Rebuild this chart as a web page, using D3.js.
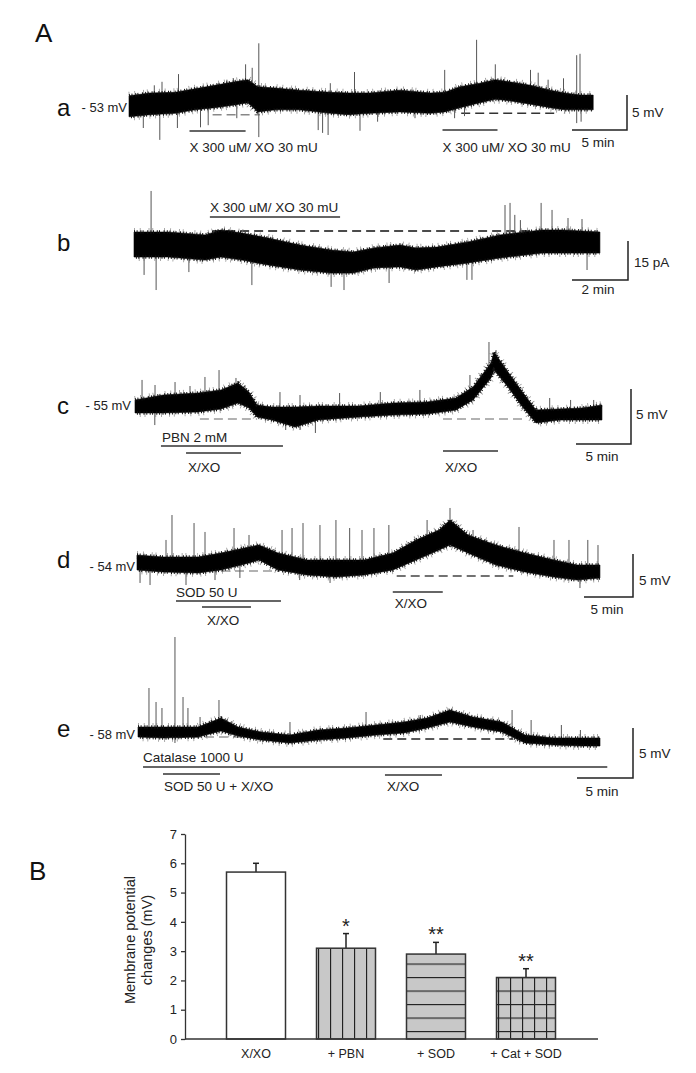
<!DOCTYPE html>
<html><head><meta charset="utf-8">
<script src="https://cdn.jsdelivr.net/npm/d3@7"></script>
<style>body{margin:0;background:#fff}svg{display:block;font-family:"Liberation Sans",Arial,sans-serif}</style>
</head><body><svg id="fig" width="696" height="1073"></svg>
<script>
// ===== DATA =====
// Trace a : membrane potential (mV, relative to resting level) vs time (min)
const traceA_t  = [0,1.9,4.2,6.0,7.8,9.6,10.8,11.7,13.3,15.5,18.3,19.9,21.9,24.6,27.4,28.7,30.1,31.9,33.3,34.6,36.5,38.3,39.6,41.0,42.2];
const traceA_hi = [2.6,3.0,3.1,3.6,4.1,4.6,4.9,3.9,3.7,3.4,3.1,3.0,3.0,3.4,3.0,3.1,3.9,4.4,4.9,4.6,4.1,3.4,3.0,2.7,2.7];
const traceA_lo = [-0.4,-0.1,0.1,0.6,0.9,1.3,1.6,0.3,0.6,0.6,0.1,-0.1,0.1,0.3,0.1,0.3,0.9,1.6,2.1,1.9,1.4,0.9,0.6,0.6,0.6];
const spikesA_t = [2.3,3.0,4.5,8.9,9.5,10.6,11.2,11.8,18.3,20.5,28.7,31.6,33.3,36.5,37.2,38.1,39.5,40.7,41.0,1.3,2.8,4.4,6.5,7.2,9.8,11.8,17.2,17.6,18.1,21.0,22.6,26.0,29.6,30.5,40.7,41.1];
const spikesA_v = [4.1,4.6,5.7,4.9,5.1,7.1,6.6,10.1,4.4,6.0,6.3,10.6,7.1,6.3,5.9,4.9,5.1,8.4,8.6,-2.0,-3.7,-2.0,-1.9,-1.6,-0.6,-3.3,-2.3,-2.7,-3.0,-2.4,-1.1,-0.6,-0.6,-0.3,-1.3,-1.1];
const dashA  = [[7.6,11.9,-0.1],[30.2,38.7,0.1]];
const drugsA = [[5.5,10.6,"X 300 uM/ XO 30 mU"],[28.5,33.5,"X 300 uM/ XO 30 mU"]];

// Trace b : holding current (pA) vs time (min)
const traceB_t  = [0,1.21,2.54,3.11,3.86,4.79,5.93,7.04,7.82,8.57,9.5,10.07,10.82,11.93,13.07,14.57,15.32,16.64];
const traceB_hi = [-0.4,-0.4,-1.5,0.4,-0.8,-2.7,-5.4,-7.3,-8.1,-6.5,-5.4,-6.5,-6.2,-4.2,-1.5,0.4,0.4,-0.4];
const traceB_lo = [-10.0,-10.0,-11.2,-10.0,-11.2,-13.1,-15.0,-16.2,-16.2,-14.2,-13.8,-15.0,-13.8,-12.3,-10.4,-8.5,-8.5,-8.5];
const spikesB_t = [0.61,13.25,13.43,13.6,13.8,14.54,14.93,15.5,16.0,0.36,0.79,1.96,4.21,7.04,7.5,9.11,11.89,12.07,16.18];
const spikesB_v = [15.4,10.0,10.8,6.2,4.2,10.8,8.1,5.0,4.6,-16.9,-22.7,-15.8,-20.8,-21.5,-22.7,-20.0,-18.8,-18.8,-15.0];
const dashB  = [[2.79,14.18,0]];
const drugsB = [[2.71,7.36,"X 300 uM/ XO 30 mU"]];

// Trace c
const traceC_t  = [0,2.55,5.73,7.82,9.36,10.36,11.09,12.45,14.55,16.64,20.36,23.45,26.55,29.18,30.73,32.36,32.64,33.91,35.09,36.45,38.55,40.64,42.45];
const traceC_hi = [1.73,2.18,2.36,2.64,3.27,2.45,1.27,1.09,1.09,1.18,1.18,1.45,1.55,1.91,2.91,5.09,6.09,4.27,2.64,0.82,0.91,1.0,1.27];
const traceC_lo = [0.55,0.55,0.64,0.91,1.45,1.0,0.18,-0.09,-0.73,-0.09,0.18,0.36,0.45,0.82,1.73,3.73,4.45,2.91,1.27,-0.36,-0.09,-0.09,-0.09];
const spikesC_t = [0.64,1.82,3.64,5.0,6.36,7.64,9.18,10.0,13.18,15.0,18.6,22.3,25.9,30.45,32.18,32.82,37.7,39.6,41.7,13.7,16.4,15.0,1.8];
const spikesC_v = [3.55,3.09,3.36,3.0,3.82,4.45,3.73,3.09,2.45,2.18,2.36,2.45,2.64,4.0,7.0,6.27,1.91,1.73,1.73,-1.0,-1.27,-1.0,-0.55];
const dashC  = [[5.9,11.1,0],[28.0,35.6,0]];
const drugsC = [[2.36,13.45,"PBN 2 mM"],[4.64,9.64,"X/XO"],[28.0,33.0,"X/XO"]];

// Trace d
const traceD_t  = [0,2.65,6.22,8.57,11.43,12.45,14.39,17.35,20.31,23.16,26.12,28.47,30.82,31.94,33.78,36.63,39.59,42.55,44.9,47.24];
const traceD_hi = [2.44,2.21,2.21,2.67,3.37,3.6,2.67,1.86,1.86,1.86,2.67,4.19,5.35,6.51,4.77,3.6,2.67,1.86,1.28,1.28];
const traceD_lo = [0.7,0.47,0.35,0.7,1.51,1.86,0.7,0.12,-0.12,0.12,0.7,1.86,3.02,3.6,2.67,1.28,0.47,-0.12,-0.47,-0.23];
const spikesD_t = [2.96,3.57,5.82,6.94,9.9,11.43,14.8,15.82,16.94,18.67,20.3,21.7,22.96,24.18,25.7,29.6,31.94,34.29,38.98,42.55,44.08,46.0,47.04,0.31,1.33,5.0,7.96,10.5,16.6,19.7,45.2];
const spikesD_v = [4.19,7.09,6.16,5.12,5.58,4.77,5.35,5.58,6.16,5.93,6.51,5.58,5.35,5.58,5.93,6.51,7.91,5.35,5.7,4.19,4.19,4.19,3.6,-0.81,-1.05,-1.05,-0.47,-0.23,-0.47,-0.81,-1.4];
const dashD  = [[8.57,14.59,0.58],[26.5,38.4,0]];
const drugsD = [[3.98,14.69,"SOD 50 U"],[6.63,11.63,"X/XO"],[26.1,31.2,"X/XO"]];

// Trace e
const traceE_t  = [0,2.23,5.36,7.41,8.93,10.98,13.57,16.07,18.66,21.25,23.75,25.8,27.86,29.91,32.5,34.55,37.14,39.64,41.25];
const traceE_hi = [1.2,1.2,1.2,2.1,1.2,0.7,0.4,0.9,1.1,1.4,1.7,2.1,2.9,2.2,1.7,0.4,0.1,0.1,0.1];
const traceE_lo = [0.2,0.1,0.2,0.8,0.3,-0.1,-0.4,-0.1,0.1,0.4,0.6,1.1,1.7,1.2,0.7,-0.4,-0.6,-0.7,-0.7];
const spikesE_t = [0.98,1.61,2.14,3.30,3.30,4.02,4.46,5.54,7.23,13.57,20.36,25.2,33.4,35.1,37.8,39.5];
const spikesE_v = [5.1,3.7,3.1,10.2,-0.4,4.2,3.1,2.2,3.9,1.7,2.7,2.4,2.9,1.9,1.4,0.9];
const dashE  = [[3.48,9.82,0.2],[21.9,33.5,0]];
const drugsE = [[0.45,41.9,"Catalase 1000 U"],[2.23,7.32,"SOD 50 U + X/XO"],[22.05,27.14,"X/XO"]];

// Scale bars [time (min), amplitude]
const scaleBars = [[5,5,"5 min","5 mV"],[2,15,"2 min","15 pA"],[5,5,"5 min","5 mV"],[5,5,"5 min","5 mV"],[5,5,"5 min","5 mV"]];
const panelLetters = ["a","b","c","d","e"];
const restLabels = ["- 53 mV","","- 55 mV","- 54 mV","- 58 mV"];

// Panel B bar chart
const categories = ["X/XO","+ PBN","+ SOD","+ Cat + SOD"];
const means = [5.7,3.1,2.9,2.1];
const sems  = [0.3,0.5,0.4,0.3];
const signif = ["","*","**","**"];
const yTicks = [0,1,2,3,4,5,6,7];

// ===== LAYOUT =====
const svg = d3.select("#fig");
const FONT = '"Liberation Sans", Arial, sans-serif';
const defs = svg.append("defs");

const layout = [
  {x0:129,pxT:11,y0:114,pxV:7,letterY:107,restX:127,restY:107,dashCol:["#888","#333"],
   drugY:[[131,152,0],[130,152,0]], sb:{cx:627,cy:130,vx:632,vy:112,tx:598,ty:147}},
  {x0:134,pxT:28,y0:231,pxV:2.6,letterY:242,restX:0,restY:0,dashCol:["#111"],
   drugY:[[217,212,0]], sb:{cx:628,cy:280,vx:634,vy:262,tx:598,ty:294}},
  {x0:135,pxT:11,y0:419,pxV:11,letterY:405,restX:131,restY:405,dashCol:["#999","#999"],
   drugY:[[446,442,1],[453,472,2],[451,472,2]], sb:{cx:631,cy:444,vx:636,vy:414,tx:602,ty:461}},
  {x0:137,pxT:9.8,y0:576,pxV:8.6,letterY:559,restX:135,restY:566,dashCol:["#999","#444"],
   drugY:[[601,597,0],[607,625,5],[592,608,2]], sb:{cx:633,cy:597,vx:639,vy:580,tx:607,ty:614}},
  {x0:138,pxT:11.2,y0:739,pxV:10,letterY:728,restX:135,restY:734,dashCol:["#999","#222"],
   drugY:[[767,762,0],[774,791,1],[775,791,2]], sb:{cx:633,cy:778,vx:639,vy:753,tx:602,ty:796}}
];
const traces = [
  {t:traceA_t,hi:traceA_hi,lo:traceA_lo,st:spikesA_t,sv:spikesA_v,dash:dashA,drugs:drugsA},
  {t:traceB_t,hi:traceB_hi,lo:traceB_lo,st:spikesB_t,sv:spikesB_v,dash:dashB,drugs:drugsB},
  {t:traceC_t,hi:traceC_hi,lo:traceC_lo,st:spikesC_t,sv:spikesC_v,dash:dashC,drugs:drugsC},
  {t:traceD_t,hi:traceD_hi,lo:traceD_lo,st:spikesD_t,sv:spikesD_v,dash:dashD,drugs:drugsD},
  {t:traceE_t,hi:traceE_hi,lo:traceE_lo,st:spikesE_t,sv:spikesE_v,dash:dashE,drugs:drugsE}
];

svg.append("text").attr("x",35).attr("y",42).attr("font-size",26).attr("fill","#111").text("A");
svg.append("text").attr("x",29).attr("y",880).attr("font-size",26).attr("fill","#111").text("B");

traces.forEach((tr,i)=>{
  const L = layout[i];
  const tEnd = tr.t[tr.t.length-1];
  const x = d3.scaleLinear().domain([0,tEnd]).range([L.x0, L.x0 + tEnd*L.pxT]);
  const y = d3.scaleLinear().domain([0,1]).range([L.y0, L.y0 - L.pxV]);
  const g = svg.append("g");
  const pts = tr.t.map((t,k)=>({t, hi:tr.hi[k], lo:tr.lo[k]}));
  const mid = t => {
    const k = Math.max(1, d3.bisectLeft(tr.t, t));
    const a = pts[Math.min(k-1,pts.length-1)], b = pts[Math.min(k,pts.length-1)];
    const f = b.t===a.t ? 0 : (t-a.t)/(b.t-a.t);
    return ((a.hi+a.lo)/2)*(1-f) + ((b.hi+b.lo)/2)*f;
  };
  // dashed baseline(s)
  tr.dash.forEach((d,k)=>{
    g.append("line").attr("x1",x(d[0])).attr("x2",x(d[1])).attr("y1",y(d[2])).attr("y2",y(d[2]))
     .attr("stroke",L.dashCol[k]||"#333").attr("stroke-width",1.5).attr("stroke-dasharray","9,5");
  });
  // spikes
  g.selectAll("line.sp").data(tr.st.map((t,k)=>[t,tr.sv[k]])).join("line").attr("class","sp")
    .attr("x1",d=>x(d[0])).attr("x2",d=>x(d[0]))
    .attr("y1",d=>y(mid(d[0]))).attr("y2",d=>y(d[1]))
    .attr("stroke","#555").attr("stroke-width",1);
  const topLine = d3.line().x(d=>x(d.t)).y(d=>y(d.hi));
  const botLine = d3.line().x(d=>x(d.t)).y(d=>y(d.lo));
  // light outer noise fringe (texture of the recording)
  [[topLine,"0.8,5,0.8,8,0.8,3,0.8,11",0],[botLine,"0.8,7,0.8,4,0.8,10,0.8,5",3]].forEach(([ln,da,off])=>{
    g.append("path").datum(pts).attr("d",ln).attr("fill","none").attr("stroke","#777").attr("stroke-opacity",0.8)
     .attr("stroke-width",8).attr("stroke-dasharray",da).attr("stroke-dashoffset",off);
  });
  // envelope band
  const area = d3.area().x(d=>x(d.t)).y0(d=>y(d.lo)).y1(d=>y(d.hi));
  g.append("path").datum(pts).attr("d",area).attr("fill","#000").attr("stroke","#000").attr("stroke-width",0.6).attr("stroke-linejoin","round");
  // dark inner fringe
  [[topLine,"1,1.6,1,2.8,1,1.2,1,3.6,1,2.2",0],[botLine,"1,2.4,1,1.4,1,3.2,1,1.8",1.5]].forEach(([ln,da,off])=>{
    g.append("path").datum(pts).attr("d",ln).attr("fill","none").attr("stroke","#111")
     .attr("stroke-width",3.5).attr("stroke-dasharray",da).attr("stroke-dashoffset",off);
  });
  // drug application bars
  tr.drugs.forEach((d,k)=>{
    const p = L.drugY[k];
    g.append("line").attr("x1",x(d[0])).attr("x2",x(d[1])).attr("y1",p[0]).attr("y2",p[0])
     .attr("stroke","#333").attr("stroke-width",1.5);
    g.append("text").attr("x",x(d[0])+p[2]).attr("y",p[1]).attr("font-size",13.5).attr("fill","#222").text(d[2]);
  });
  // scale bar
  const sb = scaleBars[i], S = L.sb;
  g.append("path").attr("d",`M${S.cx - sb[0]*L.pxT},${S.cy}H${S.cx}V${S.cy - sb[1]*L.pxV}`)
   .attr("fill","none").attr("stroke","#222").attr("stroke-width",1.5);
  g.append("text").attr("x",S.tx).attr("y",S.ty).attr("text-anchor","middle").attr("font-size",13.5).attr("fill","#222").text(sb[2]);
  g.append("text").attr("x",S.vx).attr("y",S.vy).attr("dominant-baseline","central").attr("font-size",13.5).attr("fill","#222").text(sb[3]);
  // letters and resting potential
  g.append("text").attr("x",57).attr("y",L.letterY).attr("dominant-baseline","central").attr("font-size",24).attr("fill","#111").text(panelLetters[i]);
  if (restLabels[i]) g.append("text").attr("x",L.restX).attr("y",L.restY).attr("dominant-baseline","central")
     .attr("text-anchor","end").attr("font-size",13).attr("fill","#222").text(restLabels[i]);
});

// ===== Panel B bar chart =====
const yB = d3.scaleLinear().domain([0,7]).range([1039,834]);
const xB = d3.scalePoint().domain(categories).range([256,526]);
const barW = 59;

function pat(id, vert, horiz){
  const w = vert?12:20, h = horiz?13.5:20;
  const p = defs.append("pattern").attr("id",id).attr("patternUnits","userSpaceOnUse")
    .attr("width",w).attr("height",h).attr("x",6).attr("y",5);
  p.append("rect").attr("width",w).attr("height",h).attr("fill","#c8c8c8");
  if (vert) p.append("line").attr("x1",0.5).attr("x2",0.5).attr("y1",0).attr("y2",h).attr("stroke","#222").attr("stroke-width",1.3);
  if (horiz) p.append("line").attr("x1",0).attr("x2",w).attr("y1",0.5).attr("y2",0.5).attr("stroke","#222").attr("stroke-width",1.3);
}
pat("pv",true,false); pat("ph",false,true); pat("pg",true,true);
const fills = ["#fff","url(#pv)","url(#ph)","url(#pg)"];

const gB = svg.append("g");
categories.forEach((c,i)=>{
  const cx = xB(c);
  gB.append("line").attr("x1",cx).attr("x2",cx).attr("y1",yB(means[i])).attr("y2",yB(means[i]+sems[i])).attr("stroke","#222").attr("stroke-width",1.5);
  gB.append("line").attr("x1",cx-3).attr("x2",cx+3).attr("y1",yB(means[i]+sems[i])).attr("y2",yB(means[i]+sems[i])).attr("stroke","#222").attr("stroke-width",1.5);
  if (signif[i]) gB.append("text").attr("x",cx).attr("y",yB(means[i]+sems[i])-1).attr("text-anchor","middle")
     .attr("font-size",20).attr("fill","#222").text(signif[i]);
});
gB.selectAll("rect.bar").data(categories).join("rect").attr("class","bar")
  .attr("x",c=>xB(c)-barW/2).attr("width",barW)
  .attr("y",(c,i)=>yB(means[i])).attr("height",(c,i)=>yB(0)-yB(means[i]))
  .attr("fill",(c,i)=>fills[i]).attr("stroke","#333").attr("stroke-width",1.5);

const yAxis = gB.append("g").attr("transform","translate(185,0)")
  .call(d3.axisLeft(yB).tickValues(yTicks).tickSize(4).tickSizeOuter(0).tickPadding(4).tickFormat(d3.format("d")));
yAxis.selectAll("text").attr("font-size",13).attr("font-family",FONT).attr("fill","#222");
yAxis.selectAll("line,path").attr("stroke","#333").attr("stroke-width",1.3);
gB.append("line").attr("x1",185).attr("x2",598).attr("y1",yB(0)).attr("y2",yB(0)).attr("stroke","#333").attr("stroke-width",1.5);
gB.selectAll("text.cat").data(categories).join("text").attr("class","cat")
  .attr("x",c=>xB(c)).attr("y",1058).attr("text-anchor","middle").attr("font-size",12.5).attr("fill","#222").text(c=>c);
const yl = gB.append("text").attr("transform","translate(138,940) rotate(-90)").attr("text-anchor","middle")
  .attr("font-size",14.5).attr("fill","#222");
yl.append("tspan").attr("x",0).attr("dy","-0.2em").text("Membrane potential");
yl.append("tspan").attr("x",0).attr("dy","1.15em").text("changes (mV)");
</script></body></html>
